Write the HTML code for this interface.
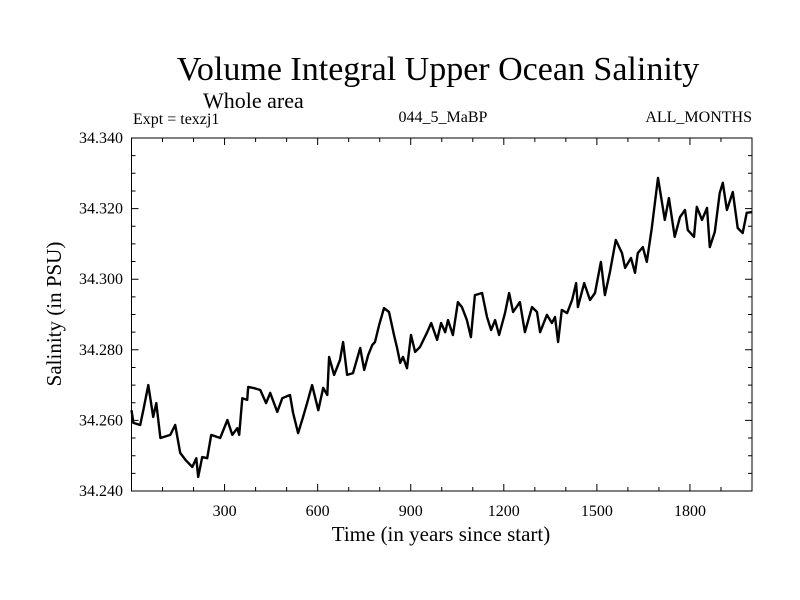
<!DOCTYPE html>
<html><head><meta charset="utf-8"><style>
body{margin:0;background:#fff}
svg{display:block;font-family:"Liberation Serif",serif}
</style></head><body>
<svg id="chart" width="800" height="600">
<text x="438" y="80" font-size="34" text-anchor="middle">Volume Integral Upper Ocean Salinity</text>
<text x="203" y="108" font-size="22">Whole area</text>
<text x="133" y="124" font-size="16">Expt = texzj1</text>
<text x="443" y="122" font-size="16" text-anchor="middle">044_5_MaBP</text>
<text x="752" y="122" font-size="16" text-anchor="end">ALL_MONTHS</text>
<text x="441" y="541" font-size="21" text-anchor="middle">Time (in years since start)</text>
<text transform="translate(61,314) rotate(-90)" font-size="21" text-anchor="middle">Salinity (in PSU)</text>
<g id="axes"></g>
<path id="series" fill="none" stroke="#000" stroke-width="2.4" stroke-linejoin="round"></path>
<rect x="131.5" y="138" width="620.5" height="353" fill="none" stroke="#000" stroke-width="1"></rect>
</svg>
<script>
const years=[0,6,28,38,54,70,80,93,125,141,157,174,196,209,215,228,244,257,286,309,325,341,347,357,373,376,392,415,434,447,470,486,511,521,537,553,566,582,602,618,631,637,653,672,682,695,714,737,750,763,776,785,798,814,830,846,856,866,875,888,901,914,930,953,966,985,998,1011,1020,1036,1052,1065,1081,1094,1107,1130,1146,1159,1172,1185,1204,1217,1230,1252,1268,1291,1307,1317,1339,1355,1365,1375,1387,1404,1420,1433,1439,1459,1478,1494,1513,1526,1542,1561,1581,1591,1610,1623,1632,1648,1661,1677,1697,1719,1732,1751,1768,1784,1793,1813,1822,1839,1855,1864,1880,1896,1906,1919,1938,1954,1970,1983,2000];
const salinity=[34.2629,34.2593,34.2587,34.2629,34.2700,34.2610,34.2649,34.2550,34.2559,34.2587,34.2508,34.2488,34.2468,34.2493,34.2440,34.2496,34.2493,34.2559,34.2550,34.2601,34.2559,34.2578,34.2559,34.2663,34.2658,34.2695,34.2692,34.2686,34.2649,34.2678,34.2624,34.2663,34.2672,34.2621,34.2564,34.2610,34.2649,34.2700,34.2629,34.2692,34.2672,34.2780,34.2729,34.2771,34.2822,34.2729,34.2734,34.2805,34.2743,34.2785,34.2814,34.2822,34.2870,34.2918,34.2907,34.2842,34.2805,34.2763,34.2780,34.2748,34.2842,34.2794,34.2808,34.2850,34.2876,34.2828,34.2876,34.2850,34.2884,34.2842,34.2935,34.2921,34.2884,34.2836,34.2955,34.2961,34.2893,34.2856,34.2884,34.2842,34.2904,34.2961,34.2907,34.2935,34.2850,34.2921,34.2907,34.2850,34.2899,34.2876,34.2893,34.2822,34.2913,34.2904,34.2941,34.2989,34.2921,34.2989,34.2941,34.2961,34.3049,34.2955,34.3020,34.3111,34.3074,34.3032,34.3060,34.3018,34.3074,34.3091,34.3049,34.3145,34.3287,34.3168,34.3230,34.3120,34.3176,34.3196,34.3139,34.3120,34.3205,34.3168,34.3202,34.3091,34.3134,34.3244,34.3273,34.3196,34.3247,34.3145,34.3131,34.3188,34.3190];
const xTickLabels=[300,600,900,1200,1500,1800];
const yTickLabels=["34.240","34.260","34.280","34.300","34.320","34.340"];
const X0=131.5,X1=752,Y0=491,Y1=138,xMin=0,xMax=2000,yMin=34.24,yMax=34.34;
const sx=v=>X0+(v-xMin)/(xMax-xMin)*(X1-X0);
const sy=v=>Y0-(v-yMin)/(yMax-yMin)*(Y0-Y1);
const NS="http://www.w3.org/2000/svg";
const axes=document.getElementById('axes');
let tp="";
for(let t=100;t<2000;t+=100){const len=t%300===0?7:4;const x=sx(t);tp+=`M${x},${Y0}v${-len}M${x},${Y1}v${len}`;}
for(let i=1;i<20;i++){const v=yMin+i*0.005;const len=i%4===0?7:4;const y=sy(v);tp+=`M${X0},${y}h${len}M${X1},${y}h${-len}`;}
const tk=document.createElementNS(NS,'path');
tk.setAttribute('d',tp);tk.setAttribute('stroke','#000');tk.setAttribute('fill','none');


axes.appendChild(tk);
xTickLabels.forEach(t=>{const e=document.createElementNS(NS,'text');e.setAttribute('x',sx(t));e.setAttribute('y',516);e.setAttribute('font-size','16');e.setAttribute('text-anchor','middle');e.textContent=t;


axes.appendChild(e);});
yTickLabels.forEach(t=>{const e=document.createElementNS(NS,'text');e.setAttribute('x',123);e.setAttribute('y',sy(parseFloat(t))+5);e.setAttribute('font-size','16');e.setAttribute('text-anchor','end');e.textContent=t;


axes.appendChild(e);});
document.getElementById('series').setAttribute('d',years.map((y,i)=>(i?'L':'M')+sx(y).toFixed(1)+','+sy(salinity[i]).toFixed(1)).join(''));
</script>
</body></html>
